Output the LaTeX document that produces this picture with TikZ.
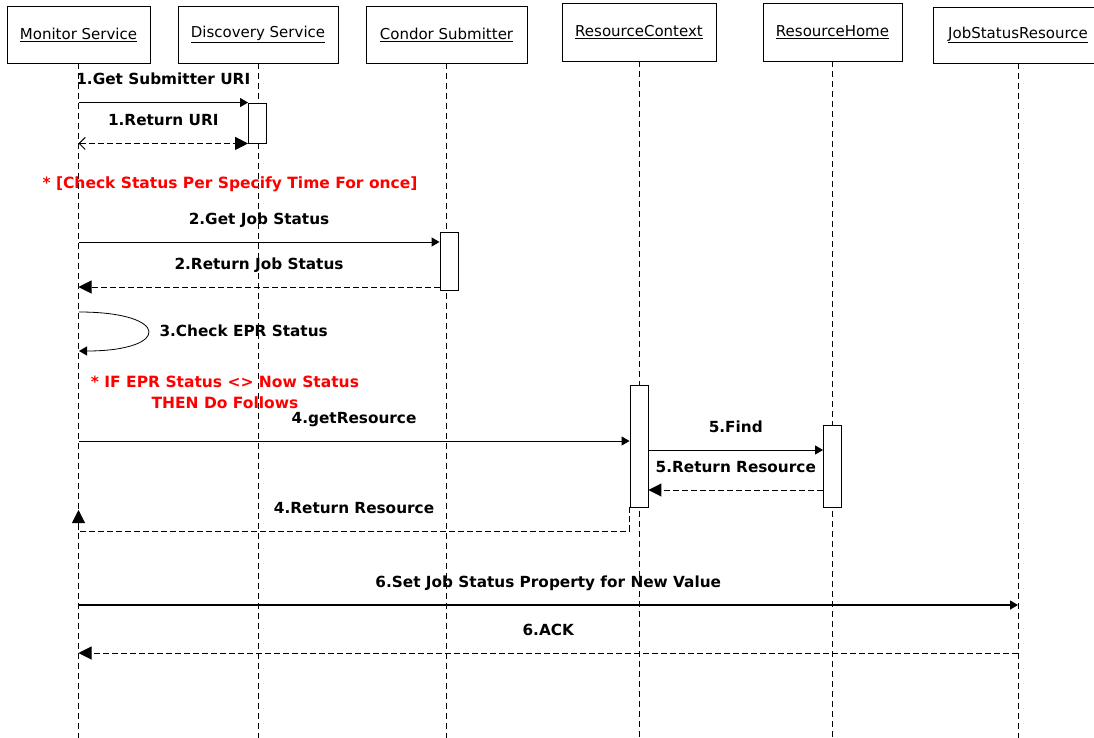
\documentclass[tikz,border=0pt]{standalone}
\usepackage{fontspec}
\setmainfont{DejaVu Sans}
\usetikzlibrary{arrows.meta}

\begin{document}
\begin{tikzpicture}[x=1pt, y=-1pt,
  obj/.style={draw, line width=0.9pt, inner sep=0pt, font=\fontsize{15}{18}\selectfont},
  act/.style={draw, line width=0.9pt, fill=white, minimum width=18pt, inner sep=0pt},
  life/.style={dash pattern=on 6pt off 4pt, line width=0.8pt},
  msg/.style={-{Triangle[length=8pt,width=9pt]}, line width=1pt},
  ret/.style={-{Triangle[length=13pt,width=13pt]}, dash pattern=on 6pt off 3pt, line width=1pt},
  txt/.style={font=\fontsize{15.3}{18}\selectfont\bfseries},
  lbl/.style={txt, anchor=base, yshift=18pt},
  note/.style={font=\fontsize{15.5}{21}\selectfont\bfseries, text=red, align=center}]

\useasboundingbox (0,0) rectangle (1094,738);
\coordinate (bot) at (0,738);

%%%%%%%%%%%%%%%%%%%%%%%%%%%%%%%%%%%%%%%%%%%%%%%%%%%%%%%%%%%%%%%%
% Objects
%%%%%%%%%%%%%%%%%%%%%%%%%%%%%%%%%%%%%%%%%%%%%%%%%%%%%%%%%%%%%%%%

\node[obj, minimum width=143pt, minimum height=57pt] (ms) at (78.5,34.5) {\underline{Monitor Service}};
\node[obj, minimum width=160pt, minimum height=57pt] (ds) at (258,34.5) {\underline{Discovery Service}};
\node[obj, minimum width=161pt, minimum height=57pt] (cs) at (446.5,34.5) {\underline{Condor Submitter}};
\node[obj, minimum width=154pt, minimum height=58pt] (rc) at (639,32) {\underline{ResourceContext}};
\node[obj, minimum width=139pt, minimum height=58pt] (rh) at (832.5,32) {\underline{ResourceHome}};
\node[obj, minimum width=170pt, minimum height=56pt] (js) at (1018,35) {\underline{JobStatusResource}};

% Lifelines
\foreach \o in {ms,ds,cs,rc,rh,js}
  \draw[life] (\o.south) -- (\o.south |- bot);

% Activations
\node[act, minimum height=40pt] (a1) at (257.5,123) {};
\node[act, minimum height=58pt] (a2) at (449,261) {};
\node[act, minimum height=122pt] (a4) at (639,446) {};
\node[act, minimum height=82pt] (a5) at (832.5,466) {};

%%%%%%%%%%%%%%%%%%%%%%%%%%%%%%%%%%%%%%%%%%%%%%%%%%%%%%%%%%%%%%%%
% Messages
%%%%%%%%%%%%%%%%%%%%%%%%%%%%%%%%%%%%%%%%%%%%%%%%%%%%%%%%%%%%%%%%

\coordinate (y2) at (0,242);
\coordinate (y2r) at (0,287);
\coordinate (y4) at (0,441);
\coordinate (y5) at (0,450);
\coordinate (y5r) at (0,490);
\coordinate (y4r) at (0,531);
\coordinate (y6) at (0,605);
\coordinate (y6r) at (0,653);

% 1
\draw[msg] (ms.south |- a1.north) -- node[lbl] (l1) {1.Get Submitter URI} (a1.north west);
\draw[{Straight Barb[length=6pt,width=12pt]}-{Triangle[length=13pt,width=13pt]}, dash pattern=on 6pt off 3pt, line width=1pt]
  (ms.south |- a1.south) -- node[lbl] (l1r) {1.Return URI} (a1.south west);

\node[note] (n1) at (230,184) {* [Check Status Per Specify Time For once]};

% 2
\draw[msg] (ms.south |- y2) -- node[lbl] (l2) {2.Get Job Status} (a2.west |- y2);
\draw[ret] (a2.west |- y2r) -- node[lbl] (l2r) {2.Return Job Status} (ms.south |- y2r);

% 3
\coordinate (s3) at (79,312);
\coordinate (e3) at (79,351);
\draw[msg, line width=0.8pt] (s3) .. controls (171,312) and (171,351) .. (e3);
\node[txt, anchor=west] (l3) at (156,331) {3.Check EPR Status};

\node[note] (n2) at (225,392.5) {* IF EPR Status <> Now Status\\THEN Do Follows};

% 4 and 5
\draw[msg] (ms.south |- y4) -- node[lbl] (l4) {4.getResource} (a4.west |- y4);
\draw[msg] (a4.east |- y5) -- node[lbl] (l5) {5.Find} (a5.west |- y5);
\draw[ret] (a5.west |- y5r) -- node[lbl] (l5r) {5.Return Resource} (a4.east |- y5r);
\draw[ret] (a4.south west) |- node[lbl, pos=0.75] (l4r) {4.Return Resource} (ms.south |- y4r) -- ++(0,-21);

% 6
\draw[msg, line width=1.3pt] (ms.south |- y6) -- node[lbl] (l6) {6.Set Job Status Property for New Value} (js.south |- y6);
\draw[ret] (js.south |- y6r) -- node[lbl] (l6r) {6.ACK} (ms.south |- y6r);

\end{tikzpicture}
\end{document}
